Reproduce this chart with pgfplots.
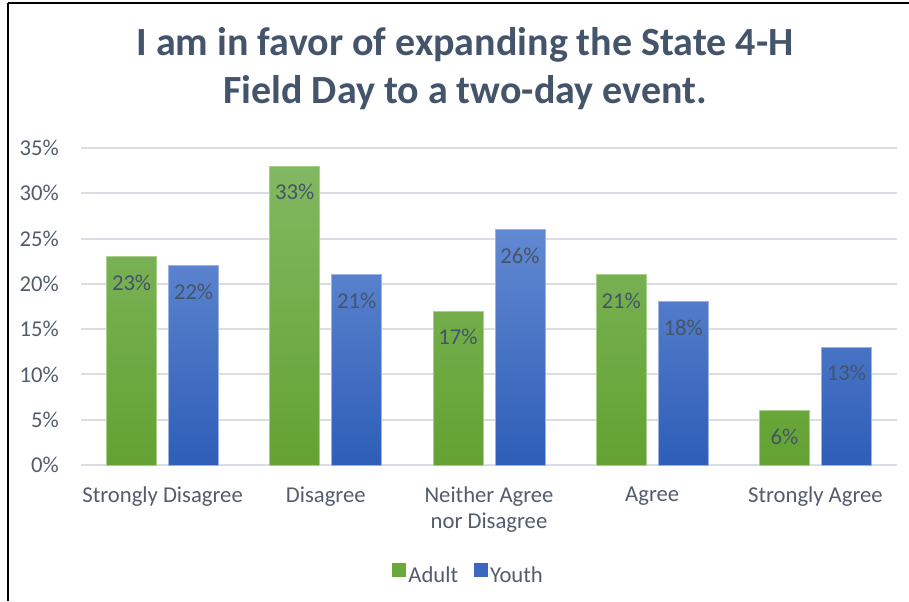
\documentclass[border=0pt]{standalone}
\usepackage{pgfplots}
\pgfplotsset{compat=1.18}
\usepackage{fontspec}
\setmainfont{Carlito}

\definecolor{titlec}{HTML}{44546A}
\definecolor{tickc}{HTML}{525C6C}
\definecolor{labelc}{HTML}{44546A}
\definecolor{gridc}{HTML}{DADDE3}
\definecolor{adulttop}{HTML}{82B862}
\definecolor{adultbot}{HTML}{63A232}
\definecolor{adultc}{HTML}{6AA83C}
\definecolor{adultedge}{HTML}{A8CF8C}
\definecolor{youthtop}{HTML}{6289D2}
\definecolor{youthbot}{HTML}{2E5EB8}
\definecolor{youthc}{HTML}{3A67C0}
\definecolor{youthedge}{HTML}{9AB3E0}

\begin{document}
\begin{tikzpicture}
\useasboundingbox (0,0) rectangle (681.75pt,-450.75pt);
% frame of the page
\draw[line width=1.5pt] (5.8pt,-2.3pt) -- (681.75pt,-2.3pt);
\draw[line width=1.5pt] (5.8pt,-2.3pt) -- (5.8pt,-450.75pt);
% title
\node[font=\fontsize{30}{34}\selectfont\bfseries, text=titlec, anchor=base] at (348.75pt,-41.4pt) {I am in favor of expanding the State 4-H};
\node[font=\fontsize{30}{34}\selectfont\bfseries, text=titlec, anchor=base] at (348.75pt,-77.25pt) {Field Day to a two-day event.};

\begin{axis}[
  at={(60.75pt,-348.75pt)}, anchor=south west,
  width=612pt, height=237.75pt, scale only axis,
  xmin=-0.5, xmax=4.5, ymin=0, ymax=35,
  axis line style={draw=none},
  major tick length=0pt,
  /pgf/number format/assume math mode=true,
  ytick={0,5,...,35},
  yticklabel={\pgfmathprintnumber{\tick}\%},
  ymajorgrids, grid style={gridc, line width=1.5pt},
  xtick={0,1,2,3,4},
  xticklabels={Strongly Disagree, Disagree, {Neither Agree\\nor Disagree}, Agree, Strongly Agree},
  tick label style={font=\fontsize{17}{19.5}\selectfont, text=tickc},
  xticklabel style={align=center, anchor=north, inner sep=0pt, yshift=-16pt},
  yticklabel style={anchor=east, inner sep=0pt, xshift=-16.5pt},
  point meta=y,
  nodes near coords={\pgfmathprintnumber{\pgfplotspointmeta}\%},
  every node near coord/.append style={anchor=center, yshift=-19.5pt, font=\fontsize{17}{19.5}\selectfont, text=labelc},
  legend columns=2,
  legend style={draw=none, fill=none, at={(0.4755,-0.347)}, anchor=center,
    font=\fontsize{17}{19.5}\selectfont, text=tickc,
    /tikz/every even column/.append style={column sep=10pt}},
]
\addplot[ybar, bar width=37.5pt, bar shift=-23.25pt, top color=adulttop, bottom color=adultbot, draw=adultedge, line width=0.75pt,
  every node near coord/.append style={xshift=-23.25pt},
  legend image code/.code={\pgfsetfillcolor{adultc}\pgfpathrectangle{\pgfpoint{0pt}{-1pt}}{\pgfpoint{10pt}{10pt}}\pgfusepath{fill}}]
  coordinates {(0,23) (1,33) (2,17) (3,21) (4,6)};
\addplot[ybar, bar width=37.5pt, bar shift=23.25pt, top color=youthtop, bottom color=youthbot, draw=youthedge, line width=0.75pt,
  every node near coord/.append style={xshift=23.25pt},
  legend image code/.code={\pgfsetfillcolor{youthc}\pgfpathrectangle{\pgfpoint{0pt}{-1pt}}{\pgfpoint{10pt}{10pt}}\pgfusepath{fill}}]
  coordinates {(0,22) (1,21) (2,26) (3,18) (4,13)};
\legend{Adult, Youth}
\end{axis}
\end{tikzpicture}
\end{document}
